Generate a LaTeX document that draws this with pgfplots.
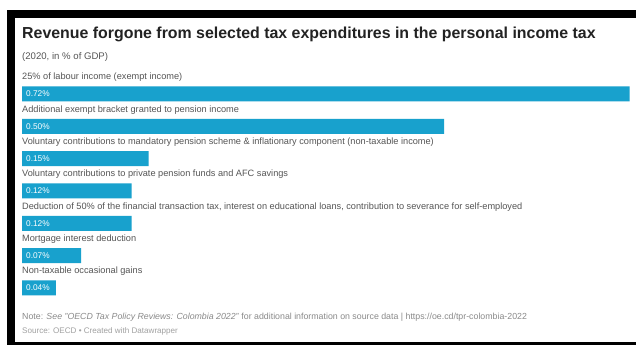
\documentclass[border=0pt]{standalone}
\usepackage{fontspec}
\setmainfont{Liberation Sans}
\usepackage{pgfplots}
\pgfplotsset{compat=1.18}
\definecolor{barblue}{HTML}{18A1CD}
\definecolor{titlegray}{HTML}{222222}
\definecolor{labgray}{HTML}{555555}
\definecolor{notegray}{HTML}{8A8A8A}
\begin{document}
\begin{tikzpicture}
\path[use as bounding box] (0pt,0pt) rectangle (636pt,345pt);
\fill[black] (7pt,0pt) rectangle (636pt,335pt);
\fill[white] (15pt,3pt) rectangle (636pt,327pt);
\node[anchor=base west, inner sep=0pt, text=titlegray, font=\bfseries\fontsize{15.9}{18}\selectfont] at (22pt,306pt) {Revenue forgone from selected tax expenditures in the personal income tax};
\node[anchor=base west, inner sep=0pt, text=labgray, font=\fontsize{9.6}{11}\selectfont] at (22pt,285pt) {(2020, in \% of GDP)};
\node[anchor=base west, inner sep=0pt, text=notegray, font=\fontsize{8.8}{10}\selectfont] at (22pt,26pt) {Note: \textit{See "OECD Tax Policy Reviews: Colombia 2022"} for additional information on source data | https://oe.cd/tpr-colombia-2022};
\node[anchor=base west, inner sep=0pt, text=notegray!80, font=\fontsize{8.1}{10}\selectfont] at (22pt,12pt) {Source: OECD • Created with Datawrapper};
\begin{axis}[
  at={(22pt,251pt)}, anchor=origin,
  x=844pt, y=-32.33pt,
  xmin=0, xmax=0.72, ymin=-0.5, ymax=6.5,
  axis lines=none, clip=false,
  /pgf/number format/assume math mode=true,
]
\addplot[xbar, fill=barblue, draw=none, bar width=15pt, bar shift=0pt] coordinates {
  (0.72,0) (0.50,1) (0.15,2) (0.13,3) (0.13,4) (0.07,5) (0.04,6)
};
\addplot[only marks, mark=none, point meta=explicit,
  nodes near coords={\pgfmathprintnumber[fixed,zerofill,precision=2]{\pgfplotspointmeta}\%},
  every node near coord/.style={anchor=west, text=white, inner sep=0pt, xshift=4pt, font=\fontsize{8.3}{10}\selectfont}]
  coordinates {
  (0,0) [0.72] (0,1) [0.50] (0,2) [0.15] (0,3) [0.12] (0,4) [0.12] (0,5) [0.07] (0,6) [0.04]
};
\begin{scope}[every node/.style={anchor=base west, inner sep=0pt, text=labgray, font=\fontsize{9.2}{11}\selectfont}]
\node at (axis cs:0,0) [yshift=14pt] {25\% of labour income (exempt income)};
\node at (axis cs:0,1) [yshift=14pt] {Additional exempt bracket granted to pension income};
\node at (axis cs:0,2) [yshift=14pt] {Voluntary contributions to mandatory pension scheme \& inflationary component (non-taxable income)};
\node at (axis cs:0,3) [yshift=14pt] {Voluntary contributions to private pension funds and AFC savings};
\node at (axis cs:0,4) [yshift=14pt] {Deduction of 50\% of the financial transaction tax, interest on educational loans, contribution to severance for self-employed};
\node at (axis cs:0,5) [yshift=14pt] {Mortgage interest deduction};
\node at (axis cs:0,6) [yshift=14pt] {Non-taxable occasional gains};
\end{scope}
\end{axis}
\end{tikzpicture}
\end{document}
